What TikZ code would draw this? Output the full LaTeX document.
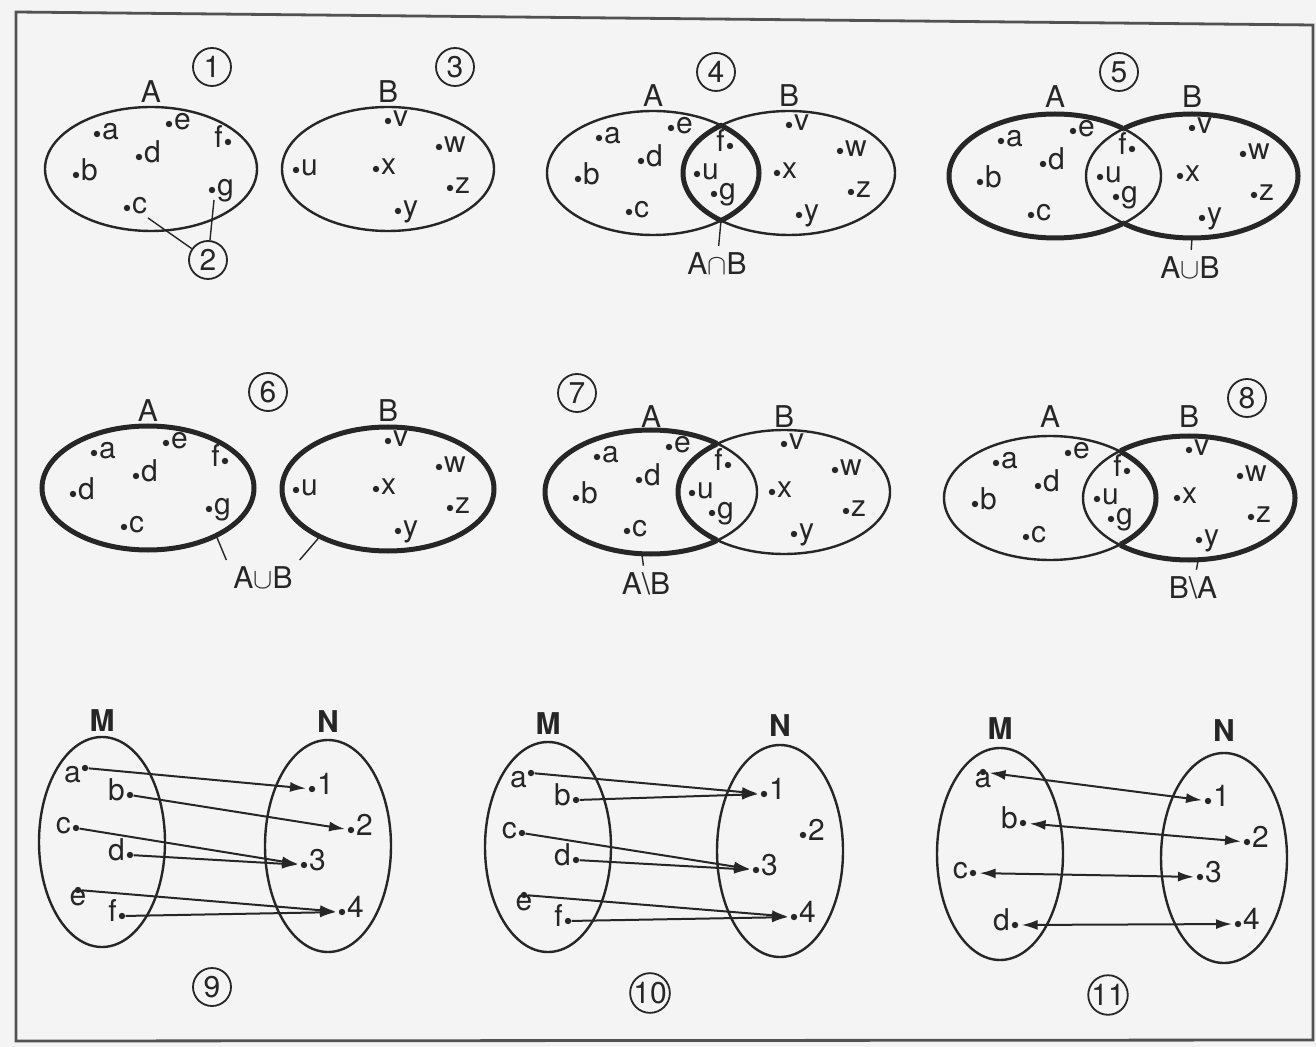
\documentclass[tikz,border=0pt]{standalone}
\usepackage{fontspec}
\setmainfont{TeX Gyre Heros}
\usetikzlibrary{calc,arrows.meta}

\colorlet{ink}{black!85}

% elements of A and of B, placed round the centre of the set
\newcommand{\eltsA}[3][b]{%
  \foreach \n/\dx/\dy in {a/-54/-35,e/18/-45,d/-12/-12,c/-24/39,g/61/21}
    \node[pt,label={[lbl]right:\n}] (#2\n) at ($(#3)+(\dx,\dy)$) {};
  \node[pt,label={[lbl]right:#1}] (#2b) at ($(#3)+(-75,6)$) {};
  \node[pt,label={[lbl]left:f}] (#2f) at ($(#3)+(77,-27)$) {};}
\newcommand{\eltsB}[2]{%
  \foreach \n/\dx/\dy in {v/0/-48,w/51/-22,u/-92/1,x/-12/0,z/62/19,y/10/42}
    \node[pt,label={[lbl]right:\n}] (#1\n) at ($(#2)+(\dx,\dy)$) {};}
% elements of M and of N
\newcommand{\eltsM}[2]{%
  \foreach \n/\dx/\dy in {b/28/-47,c/-26/-14,d/28/13,f/20/74}
    \node[pt,label={[lbl]left:\n}] (#1\n) at ($(#2)+(\dx,\dy)$) {};
  \node[pt,label={[lbl]below left:a}] (#1a) at ($(#2)+(-17,-74)$) {};
  \node[pt,label={[lbl]below:e}] (#1e) at ($(#2)+(-24,48)$) {};}
\newcommand{\eltsN}[2]{%
  \foreach \n/\dx/\dy in {1/-16/-57,2/23/-16,3/-24/19,4/14/66}
    \node[pt,label={[lbl]right:\n}] (#1\n) at ($(#2)+(\dx,\dy)$) {};}
% thick half of an ellipse, left or right of the middle line
\newcommand{\boldleft}[2]{\begin{scope}
  \clip ($(#1)+(-200,-100)$) rectangle ($(#1)+(0,100)$);
  \draw[bold] (#2) ellipse[]; \end{scope}}
\newcommand{\boldright}[2]{\begin{scope}
  \clip ($(#1)+(0,-100)$) rectangle ($(#1)+(200,100)$);
  \draw[bold] (#2) ellipse[]; \end{scope}}

\begin{document}
\begin{tikzpicture}[x=0.5pt, y=-0.5pt, x radius=106, y radius=62,
    every node/.style={font=\fontsize{15}{17}\selectfont, text=ink},
    pt/.style={circle, fill=ink, inner sep=0pt, minimum size=3.2pt, label distance=0.3pt},
    lbl/.style={inner sep=0.6pt, text height=1ex, text depth=0pt},
    setline/.style={draw=ink, line width=1.2pt},
    bold/.style={draw=ink, line width=2.5pt},
    num/.style={circle, draw=ink, line width=0.9pt, minimum size=19pt, inner sep=0pt},
    ptr/.style={draw=ink, line width=0.7pt},
    >={Latex[length=8pt,width=5pt]},
    arr/.style={draw=ink, line width=1pt, ->, shorten >=1.2pt},
    dblarr/.style={arr, <->, shorten <=1.5pt},
    mn/.style={font=\fontsize{15}{17}\selectfont\bfseries}]
  \useasboundingbox (0,0) rectangle (1316,1047);
  \fill[gray!9] (0,0) rectangle (1316,1047);
  \draw[ink!80, line width=1.4pt] (16,12) -- (1313,25) -- (1313,1040) -- (16,1041) -- cycle;

  % 1, 2, 3
  \coordinate (A1) at (151,169); \coordinate (B1) at (388,169);
  \draw[setline] (A1) ellipse[] (B1) ellipse[];
  \node (la1) at ($(A1)+(0,-77)$) {A};
  \node (lb1) at ($(B1)+(0,-77)$) {B};
  \eltsA{s1}{A1} \eltsB{s1}{B1}
  \node[num] (n1) at (212,67) {1};
  \node[num] (n2) at (208,260) {2};
  \node[num] (n3) at (455,67) {3};
  \coordinate (p2c) at (148,218); \coordinate (p2g) at (214,200);
  \draw[ptr] (n2) -- (p2c) (n2) -- (p2g);

  % 4
  \coordinate (A4) at (653,173); \coordinate (B4) at (789,173);
  \coordinate (m4) at ($(A4)!0.5!(B4)$);
  \draw[setline] (A4) ellipse[] (B4) ellipse[];
  \boldright{m4}{A4} \boldleft{m4}{B4}
  \node (la4) at ($(A4)+(0,-77)$) {A};
  \node (lb4) at ($(B4)+(0,-77)$) {B};
  \eltsA{s4}{A4} \eltsB{s4}{B4}
  \node[num] (n4) at (716,72) {4};
  \node (t4) at (717,264) {A$\cap$B};
  \coordinate (q4) at ($(m4)+(0,47.6)$);
  \draw[ptr] (t4) -- (q4);

  % 5
  \coordinate (A5) at (1055,176); \coordinate (B5) at (1192,176);
  \coordinate (m5) at ($(A5)!0.5!(B5)$);
  \draw[setline] (A5) ellipse[] (B5) ellipse[];
  \boldleft{m5}{A5} \boldright{m5}{B5}
  \node (la5) at ($(A5)+(0,-79)$) {A};
  \node (lb5) at ($(B5)+(0,-79)$) {B};
  \eltsA{s5}{A5} \eltsB{s5}{B5}
  \node[num] (n5) at (1119,72) {5};
  \node (t5) at (1190,268) {A$\cup$B};
  \coordinate (q5) at ($(B5)+(0,62)$);
  \draw[ptr] (t5) -- (q5);

  % 6
  \coordinate (A6) at (148,488); \coordinate (B6) at (388,489);
  \draw[bold] (A6) ellipse[] (B6) ellipse[];
  \node (la6) at ($(A6)+(0,-77)$) {A};
  \node (lb6) at ($(B6)+(0,-78)$) {B};
  \eltsA[d]{s6}{A6} \eltsB{s6}{B6}
  \node[num] (n6) at (268,392) {6};
  \node (t6) at (263,578) {A$\cup$B};
  \coordinate (q6a) at ($(A6)+(50:106 and 62)$);
  \coordinate (q6b) at ($(B6)+(130:106 and 62)$);
  \draw[ptr] (t6.north west) -- (q6a) (t6.north east) -- (q6b);

  % 7
  \coordinate (A7) at (651,492); \coordinate (B7) at (784,492);
  \coordinate (m7) at ($(A7)!0.5!(B7)$);
  \draw[setline] (A7) ellipse[] (B7) ellipse[];
  \boldleft{m7}{A7} \boldleft{m7}{B7}
  \node (la7) at ($(A7)+(0,-75)$) {A};
  \node (lb7) at ($(B7)+(0,-75)$) {B};
  \eltsA{s7}{A7} \eltsB{s7}{B7}
  \node[num] (n7) at (577,393) {7};
  \node (t7) at (646,584) {A\textbackslash B};
  \coordinate (q7) at ($(A7)+(95:106 and 62)$);
  \draw[ptr] (t7) -- (q7);

  % 8
  \coordinate (A8) at (1050,498); \coordinate (B8) at (1189,498);
  \coordinate (m8) at ($(A8)!0.5!(B8)$);
  \draw[setline] (A8) ellipse[] (B8) ellipse[];
  \boldright{m8}{A8} \boldright{m8}{B8}
  \node (la8) at ($(A8)+(0,-81)$) {A};
  \node (lb8) at ($(B8)+(0,-81)$) {B};
  \eltsA{s8}{A8} \eltsB{s8}{B8}
  \node[num] (n8) at (1247,398) {8};
  \node (t8) at (1193,588) {B\textbackslash A};
  \coordinate (q8) at ($(B8)+(85:106 and 62)$);
  \draw[ptr] (t8) -- (q8);

  % 9
  \coordinate (M9) at (102,842); \coordinate (N9) at (328,846);
  \draw[setline] (M9) ellipse[x radius=63, y radius=105] (N9) ellipse[x radius=63, y radius=106];
  \node[mn] (lm9) at ($(M9)+(0,-121)$) {M};
  \node[mn] (ln9) at ($(N9)+(0,-124)$) {N};
  \eltsM{s9}{M9} \eltsN{s9}{N9}
  \foreach \src/\dst in {a/1,b/2,c/3,d/3,e/4,f/4}
    \draw[arr] (s9\src) -- (s9\dst);
  \node[num] (n9) at (212,987) {9};

  % 10
  \coordinate (M10) at (548,847); \coordinate (N10) at (780,851);
  \draw[setline] (M10) ellipse[x radius=63, y radius=105] (N10) ellipse[x radius=63, y radius=106];
  \node[mn] (lm10) at ($(M10)+(0,-123)$) {M};
  \node[mn] (ln10) at ($(N10)+(0,-125)$) {N};
  \eltsM{s10}{M10} \eltsN{s10}{N10}
  \foreach \src/\dst in {a/1,b/1,c/3,d/3,e/4,f/4}
    \draw[arr] (s10\src) -- (s10\dst);
  \node[num] (n10) at (650,993) {10};

  % 11
  \coordinate (M11) at (1000,854); \coordinate (N11) at (1224,858);
  \draw[setline] (M11) ellipse[x radius=63, y radius=106] (N11) ellipse[x radius=63, y radius=105];
  \node[mn] (lm11) at ($(M11)+(0,-125)$) {M};
  \node[mn] (ln11) at ($(N11)+(0,-127)$) {N};
  \node[pt,label={[lbl]below:a}] (s11a) at ($(M11)+(-17,-82)$) {};
  \foreach \n/\dx/\dy in {b/23/-31,c/-27/19,d/15/71}
    \node[pt,label={[lbl]left:\n}] (s11\n) at ($(M11)+(\dx,\dy)$) {};
  \eltsN{s11}{N11}
  \foreach \src/\dst in {a/1,b/2,c/3,d/4}
    \draw[dblarr] (s11\src) -- (s11\dst);
  \node[num] (n11) at (1108,995) {11};
\end{tikzpicture}
\end{document}
